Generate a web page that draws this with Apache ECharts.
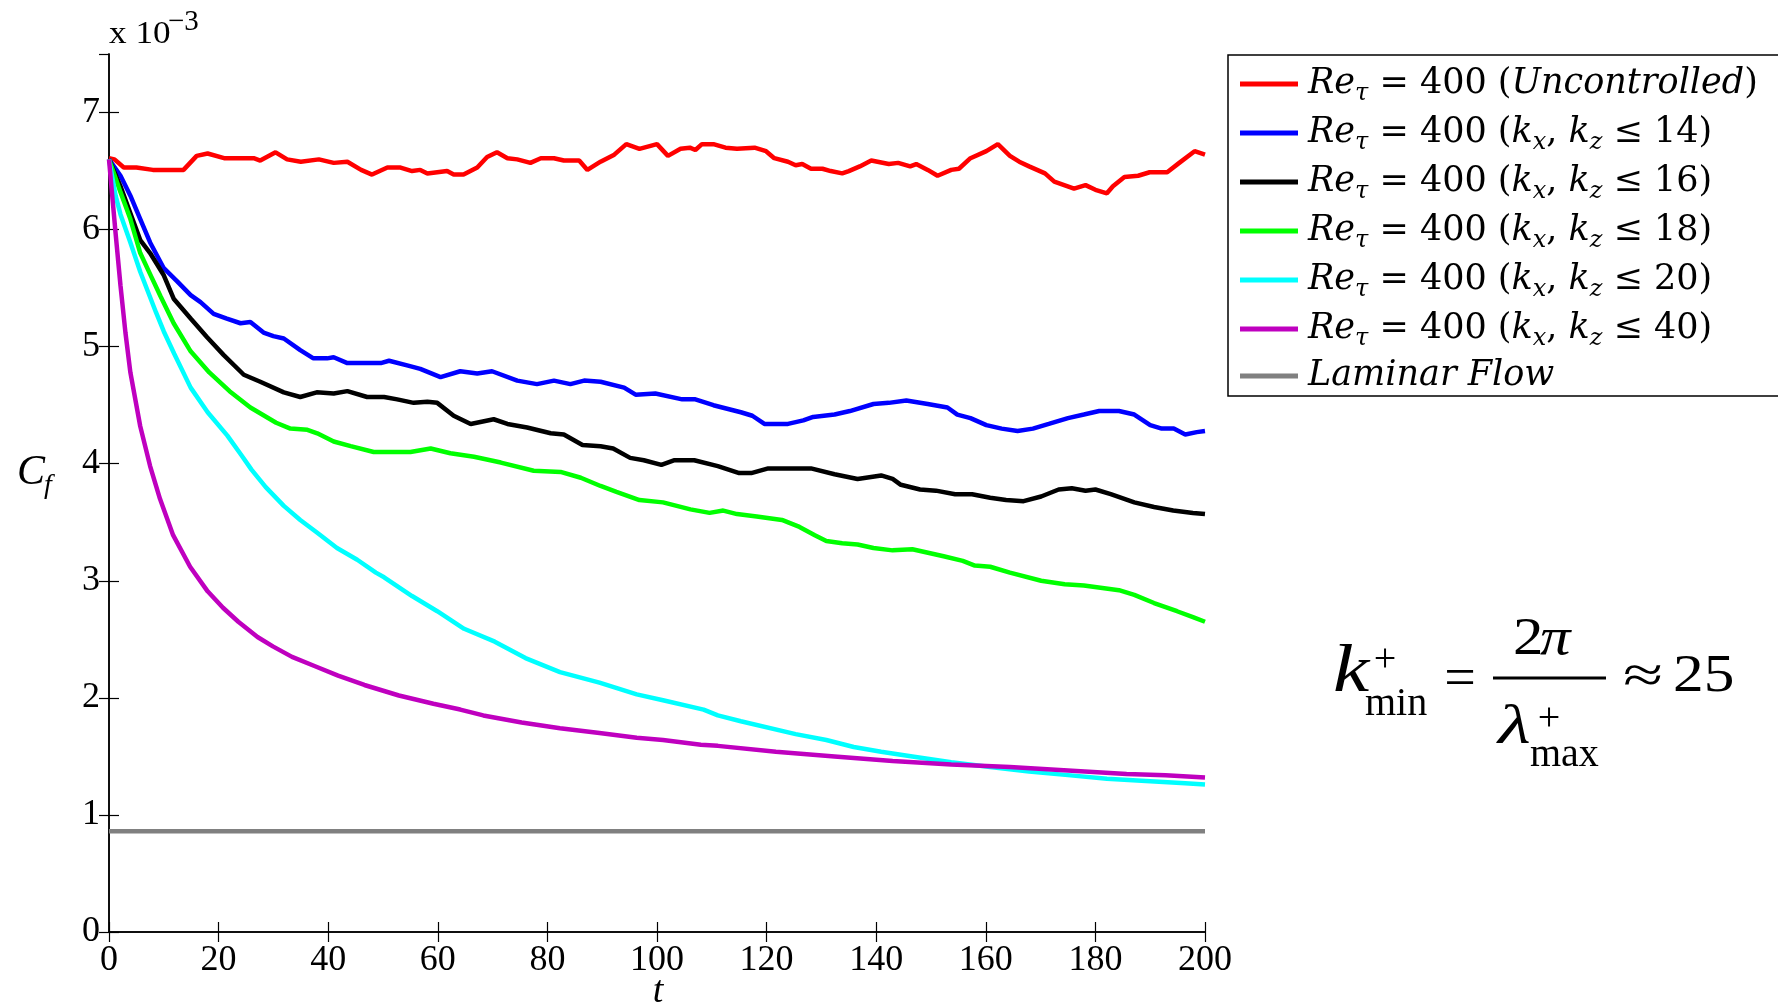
<!DOCTYPE html>
<html>
<head>
<meta charset="utf-8">
<title>Cf vs t</title>
<script src="https://cdn.jsdelivr.net/npm/echarts@6/dist/echarts.min.js"></script>
<style>
  body { margin: 0; background: #fff; }
  #chart { width: 1778px; height: 1007px; }
</style>
</head>
<body>
<div id="chart"></div>
<script>
// values, [t, Cf x 1e3]
var uncontrolled = [[0,6.61],[1,6.60],[2.7,6.53],[5,6.53],[8,6.51],[13.6,6.51],[16,6.63],[18,6.65],[21,6.61],[26.4,6.61],[27.6,6.59],[30.4,6.66],[32.5,6.60],[35,6.58],[38.3,6.60],[41,6.57],[43.5,6.58],[46,6.51],[48,6.47],[50.8,6.53],[53.2,6.53],[55.3,6.50],[56.8,6.51],[58.1,6.48],[61.7,6.50],[62.9,6.47],[64.7,6.47],[67.2,6.53],[69,6.62],[70.8,6.66],[72.7,6.61],[74.5,6.60],[76.9,6.57],[78.8,6.61],[81.2,6.61],[83,6.59],[85.8,6.59],[87.3,6.51],[89.7,6.58],[92.2,6.64],[94.4,6.73],[96.8,6.69],[100,6.73],[102,6.63],[104.3,6.69],[106,6.70],[107,6.68],[108.2,6.73],[110.3,6.73],[112.5,6.70],[114.6,6.69],[117.8,6.70],[119.9,6.67],[121.4,6.61],[123.9,6.58],[125.3,6.55],[126.5,6.56],[128.1,6.52],[130.2,6.52],[131.7,6.50],[133.8,6.48],[135,6.50],[137,6.54],[139.1,6.59],[142.3,6.56],[144,6.57],[146.2,6.54],[147.3,6.56],[149.4,6.51],[151.2,6.46],[153.7,6.51],[155.1,6.52],[157.2,6.61],[160.1,6.67],[162.2,6.73],[164.4,6.63],[166.1,6.58],[167.9,6.54],[170.8,6.48],[172.5,6.41],[176.1,6.35],[178.2,6.38],[180,6.34],[182.1,6.31],[183.2,6.37],[185.3,6.45],[187.8,6.46],[189.9,6.49],[193.1,6.49],[195.3,6.57],[198.1,6.67],[200,6.64]];
var k14 = [[0,6.6],[2.1,6.46],[3.9,6.29],[5.7,6.09],[7.5,5.89],[10,5.67],[12.4,5.56],[14.9,5.44],[16.7,5.38],[19.1,5.28],[21.5,5.24],[24,5.20],[25.8,5.21],[28.2,5.12],[30,5.09],[31.9,5.07],[34.9,4.97],[37.3,4.90],[39.8,4.90],[41,4.91],[43.5,4.86],[49.6,4.86],[51.1,4.88],[54.4,4.84],[56.8,4.81],[60.5,4.74],[64.1,4.79],[67.2,4.77],[69.9,4.79],[74.5,4.71],[78.1,4.68],[81.2,4.71],[84.2,4.68],[86.7,4.71],[89.7,4.70],[94,4.65],[96.1,4.59],[99.7,4.60],[104.6,4.55],[107,4.55],[110.3,4.50],[115.3,4.44],[117.4,4.41],[119.6,4.34],[123.9,4.34],[126.7,4.37],[128.5,4.40],[132.4,4.42],[135.2,4.45],[139.5,4.51],[142.3,4.52],[145.5,4.54],[149.4,4.51],[153,4.48],[154.8,4.42],[157.2,4.39],[160.1,4.33],[162.9,4.30],[165.8,4.28],[168.6,4.30],[171.5,4.34],[175,4.39],[177.9,4.42],[180.7,4.45],[184.3,4.45],[187.1,4.42],[190,4.33],[192.1,4.30],[194.3,4.30],[196.4,4.25],[198.5,4.27],[200,4.28]];
var k16 = [[0,6.6],[2.1,6.37],[3.9,6.14],[5.7,5.91],[7.5,5.80],[10,5.61],[11.8,5.41],[14.9,5.24],[17.9,5.08],[20.9,4.93],[24.6,4.76],[27.6,4.70],[31.9,4.61],[34.9,4.57],[37.9,4.61],[41,4.60],[43.5,4.62],[47.1,4.57],[50.2,4.57],[52.6,4.55],[55.6,4.52],[58.1,4.53],[59.9,4.52],[62.9,4.41],[66,4.34],[70.2,4.38],[72.7,4.34],[76.3,4.31],[80.6,4.26],[83,4.25],[86.4,4.16],[89.7,4.15],[92,4.13],[95.1,4.05],[97.6,4.03],[100.8,3.99],[103.2,4.03],[106.8,4.03],[111.1,3.98],[115,3.92],[117.2,3.92],[120.3,3.96],[125.3,3.96],[128.1,3.96],[132.4,3.91],[136.6,3.87],[140.9,3.90],[143,3.87],[144.5,3.82],[148,3.78],[150.9,3.77],[154.4,3.74],[157.5,3.74],[160.8,3.71],[163.7,3.69],[166.9,3.68],[170.1,3.72],[173.3,3.78],[175.7,3.79],[178.2,3.77],[180,3.78],[182.8,3.74],[187.1,3.67],[190.7,3.63],[194.2,3.60],[197.8,3.58],[200,3.57]];
var k18 = [[0,6.6],[2.1,6.32],[3.9,6.09],[5.7,5.80],[7.5,5.62],[9.4,5.43],[11.8,5.20],[14.9,4.96],[18.3,4.78],[22,4.62],[25.8,4.48],[30.5,4.35],[33.1,4.30],[36.2,4.29],[38,4.26],[41,4.19],[44.1,4.15],[48.3,4.10],[55,4.10],[58.7,4.13],[62.3,4.09],[66.6,4.06],[71.5,4.01],[77.5,3.94],[82.4,3.93],[86.1,3.88],[89.7,3.81],[92.6,3.76],[96.8,3.69],[101.1,3.67],[106.1,3.61],[109.6,3.58],[112.1,3.60],[114.6,3.57],[118.2,3.55],[122.8,3.52],[126,3.46],[128.8,3.39],[130.9,3.34],[133.8,3.32],[136.6,3.31],[139.5,3.28],[143,3.26],[146.6,3.27],[152.3,3.21],[155.8,3.17],[158,3.13],[160.8,3.12],[164.4,3.07],[170.1,3.00],[174.4,2.97],[177.9,2.96],[184.3,2.92],[187.1,2.88],[190.7,2.81],[194.9,2.74],[197.8,2.69],[200,2.65]];
var k20 = [[0,6.6],[1.2,6.29],[2.1,6.13],[3.9,5.89],[5.7,5.64],[8.6,5.29],[10,5.13],[11.9,4.94],[14.9,4.65],[18,4.44],[21.6,4.24],[24.2,4.07],[26,3.95],[28.6,3.80],[31.9,3.64],[34.9,3.52],[38,3.41],[41.6,3.28],[45.3,3.18],[48.7,3.07],[50.2,3.03],[55.3,2.87],[59.9,2.74],[64.8,2.59],[70.4,2.48],[76,2.34],[82.3,2.22],[89.5,2.13],[96.3,2.03],[101.1,1.98],[108.5,1.90],[111.1,1.85],[115.3,1.80],[125.3,1.69],[130.9,1.64],[135.9,1.58],[140.9,1.54],[146.6,1.50],[153.7,1.45],[160.8,1.41],[167.9,1.37],[175,1.34],[182.1,1.31],[189.2,1.29],[196.4,1.27],[200,1.26]];
var k40 = [[0,6.6],[1.2,5.97],[2.1,5.52],[3,5.12],[3.9,4.78],[5.7,4.32],[7.5,3.98],[9.3,3.70],[11.7,3.39],[14.8,3.12],[18,2.91],[20.8,2.77],[23.6,2.65],[27.1,2.52],[29.9,2.44],[33.4,2.35],[37.6,2.27],[41.8,2.19],[46.6,2.11],[52.9,2.02],[59.2,1.95],[64.1,1.90],[68.3,1.85],[75.3,1.79],[82.3,1.74],[89.5,1.70],[96.3,1.66],[101.1,1.64],[108,1.60],[111.1,1.59],[121.7,1.54],[132.4,1.50],[143,1.46],[153.7,1.43],[164.4,1.41],[175,1.38],[185.7,1.35],[192.8,1.34],[200,1.32]];
var laminar = [[0,0.86],[200,0.86]];

var seriesNames = ['Re_τ = 400 (Uncontrolled)', 'Re_τ = 400 (k_x, k_z ≤ 14)', 'Re_τ = 400 (k_x, k_z ≤ 16)',
  'Re_τ = 400 (k_x, k_z ≤ 18)', 'Re_τ = 400 (k_x, k_z ≤ 20)', 'Re_τ = 400 (k_x, k_z ≤ 40)', 'Laminar Flow'];
var seriesColors = ['#ff0000', '#0000ff', '#000000', '#00ff00', '#00ffff', '#bf00bf', '#808080'];
var seriesData = [uncontrolled, k14, k16, k18, k20, k40, laminar];
var kLimits = [null, 14, 16, 18, 20, 40, null];

var xTicks = [0, 200, 20];   // min, max, step
var yTicks = [0, 7.5, 1];

var chart = echarts.init(document.getElementById('chart'));

// legend labels in rich text (math-ish)
function legendLabel(name) {
  var i = seriesNames.indexOf(name);
  if (i === 6) return '{first|Laminar Flow}';
  var s = '{first|Re}{sub|τ}{rm| = 400 (}';
  if (kLimits[i] === null) s += '{it|Uncontrolled}';
  else s += '{it|k}{sub|x}{rm|, }{it|k}{sub|z}{rm| ≤ ' + kLimits[i] + '}';
  return s + '{rm|)}';
}

var serif = '"Liberation Serif", "Times New Roman", serif';
var legendFont = '"DejaVu Serif", serif';

var series = seriesNames.map(function (n, i) {
  return {
    name: n,
    type: 'line',
    data: seriesData[i],
    showSymbol: false,
    symbol: 'none',
    color: seriesColors[i],
    lineStyle: { width: 4.5, color: seriesColors[i] },
    animation: false
  };
});

var axisBase = {
  type: 'value',
  axisLine: { show: true, lineStyle: { color: '#000', width: 1.5 } },
  axisTick: { show: true, inside: true, length: 10, lineStyle: { color: '#000', width: 1.2 } },
  splitLine: { show: false }
};

// small helper for the free text pieces
function txt(x, y, text, font, opts) {
  opts = opts || {};
  return {
    type: 'text', x: x, y: y, scaleX: opts.sx || 1,
    style: { text: text, font: font, fill: '#000', textAlign: opts.align || 'left', textVerticalAlign: 'middle' }
  };
}

chart.setOption({
  backgroundColor: '#fff',
  animation: false,
  grid: { left: 109, right: 573, top: 54, bottom: 75 },
  xAxis: [
    Object.assign({}, axisBase, {
      min: xTicks[0], max: xTicks[1], interval: xTicks[2], position: 'bottom',
      axisLabel: { color: '#000', fontFamily: serif, fontSize: 36, margin: 11 }
    }),
    Object.assign({}, axisBase, {
      min: xTicks[0], max: xTicks[1], interval: xTicks[2], position: 'top',
      axisLabel: { show: false }
    })
  ],
  yAxis: [
    Object.assign({}, axisBase, {
      min: yTicks[0], max: yTicks[1], interval: yTicks[2], position: 'left',
      axisLabel: {
        color: '#000', fontFamily: serif, fontSize: 36, margin: 9, showMaxLabel: false,
        formatter: function (v) { return v % 1 === 0 ? String(v) : ''; }
      }
    }),
    Object.assign({}, axisBase, {
      min: yTicks[0], max: yTicks[1], interval: yTicks[2], position: 'right',
      axisLabel: { show: false }
    })
  ],
  legend: {
    orient: 'vertical',
    left: 1228,
    top: 55,
    data: seriesNames,
    icon: 'rect',
    itemWidth: 58,
    itemHeight: 5,
    itemGap: 5,
    padding: [7, 40, 0, 12],
    borderColor: '#000',
    borderWidth: 1.5,
    selectedMode: false,
    formatter: legendLabel,
    textStyle: {
      color: '#000', fontFamily: legendFont, fontSize: 35, lineHeight: 40,
      rich: {
        first: { fontFamily: legendFont, fontStyle: 'italic', fontSize: 35, lineHeight: 40, padding: [0, 0, 0, 5] },
        it: { fontFamily: legendFont, fontStyle: 'italic', fontSize: 35, lineHeight: 40 },
        rm: { fontFamily: legendFont, fontSize: 35, lineHeight: 40 },
        sub: { fontFamily: legendFont, fontStyle: 'italic', fontSize: 24, lineHeight: 20, padding: [20, 0, 0, 0] }
      }
    }
  },
  graphic: [
    // axis names and exponent
    txt(17, 473, 'C', 'italic 42px ' + serif),
    txt(44, 486, 'f', 'italic 28px ' + serif),
    txt(658, 992, 't', 'italic 38px ' + serif, { align: 'center' }),
    txt(109, 35, 'x 10', '32px ' + serif, { sx: 1.1 }),
    txt(168, 22, '\u22123', '29px ' + serif),
    // k+_min = 2pi / lambda+_max ~ 25
    txt(1333, 673, 'k', 'italic 68px ' + serif, { sx: 1.2 }),
    txt(1385, 660, '+', '40px ' + serif, { align: 'center' }),
    txt(1365, 704, 'min', '40px ' + serif),
    txt(1460, 681, '=', '56px ' + serif, { align: 'center' }),
    { type: 'line', shape: { x1: 1493, y1: 678, x2: 1606, y2: 678 }, style: { stroke: '#000', lineWidth: 3 } },
    txt(1513, 640, '2', '52px ' + serif, { sx: 1.17 }),
    txt(1540, 640, 'π', 'italic 52px ' + serif, { sx: 1.17 }),
    txt(1498, 729, 'λ', 'italic 54px ' + serif, { sx: 1.4 }),
    txt(1549, 719, '+', '40px ' + serif, { align: 'center' }),
    txt(1530, 755, 'max', '40px ' + serif),
    txt(1643, 678, '≈', '52px ' + serif, { align: 'center', sx: 1.4 }),
    txt(1673, 677, '25', '52px ' + serif, { sx: 1.18 })
  ],
  series: series
});
</script>
</body>
</html>
